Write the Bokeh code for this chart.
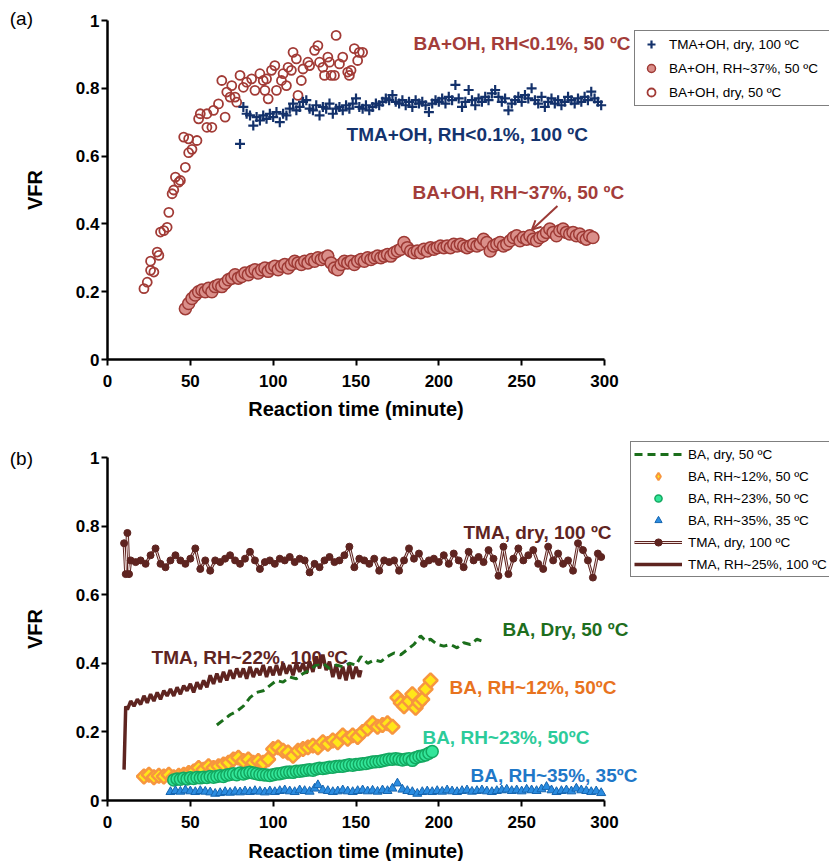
from bokeh.plotting import figure
from bokeh.models import Range1d, FixedTicker, Label, Legend, LegendItem, Arrow, OpenHead
from bokeh.layouts import column
from bokeh.embed import file_html
from bokeh.resources import INLINE

FONT = "Liberation Sans"

# ---------------- Panel (a) data ----------------
ba_dry_x = [22, 24, 26, 28, 26, 30, 31, 32, 34, 36, 37, 39, 40, 41, 43, 44, 47, 49, 51, 46, 49, 54, 55, 56,
            60, 60, 63, 64, 67, 71, 69, 72, 74, 75, 77, 78, 80, 82, 84, 87, 89, 92, 94, 96, 95, 97, 99, 101,
            102, 105, 106, 109, 108, 111, 112, 114, 115, 117, 118, 121, 122, 125, 127, 128, 130, 131, 133,
            134, 135, 137, 138, 140, 142, 145, 146, 147, 149, 151, 152, 154]
ba_dry_y = [0.209, 0.228, 0.263, 0.258, 0.29, 0.317, 0.307, 0.376, 0.38, 0.39, 0.434, 0.489, 0.5, 0.538,
            0.523, 0.528, 0.567, 0.61, 0.62, 0.656, 0.651, 0.646, 0.71, 0.725, 0.685, 0.725, 0.685, 0.735,
            0.754, 0.715, 0.823, 0.789, 0.774, 0.808, 0.774, 0.759, 0.838, 0.803, 0.818, 0.828, 0.794,
            0.843, 0.823, 0.828, 0.794, 0.769, 0.853, 0.867, 0.794, 0.823, 0.843, 0.862, 0.808, 0.853,
            0.906, 0.887, 0.779, 0.823, 0.857, 0.877, 0.867, 0.912, 0.926, 0.877, 0.862, 0.838, 0.892,
            0.877, 0.838, 0.838, 0.956, 0.872, 0.892, 0.848, 0.838, 0.853, 0.917, 0.882, 0.906, 0.906]

tma_x = [80, 82, 84, 86, 88, 90, 92, 94, 96, 98, 100, 102, 104, 106, 108, 110, 112, 114, 116, 118, 120,
         122, 124, 126, 128, 130, 132, 134, 136, 138, 140, 142, 144, 146, 148, 150, 152, 154, 156, 158,
         160, 162, 164, 166, 168, 170, 172, 174, 176, 178, 180, 182, 184, 186, 188, 190, 192, 194, 196,
         198, 200, 202, 204, 206, 208, 210, 212, 214, 216, 218, 220, 222, 224, 226, 228, 230, 232, 234,
         236, 238, 240, 242, 244, 246, 248, 250, 252, 254, 256, 258, 260, 262, 264, 266, 268, 270, 272,
         274, 276, 278, 280, 282, 284, 286, 288, 290, 292, 294, 296, 298]
tma_y = [0.636, 0.745, 0.725, 0.72, 0.69, 0.715, 0.705, 0.72, 0.71, 0.725, 0.715, 0.73, 0.70, 0.725,
         0.72, 0.74, 0.755, 0.735, 0.745, 0.76, 0.765, 0.74, 0.735, 0.75, 0.72, 0.745, 0.74, 0.755,
         0.725, 0.74, 0.745, 0.735, 0.75, 0.74, 0.755, 0.77, 0.745, 0.74, 0.75, 0.735, 0.745, 0.755,
         0.75, 0.76, 0.77, 0.765, 0.78, 0.76, 0.755, 0.765, 0.75, 0.76, 0.745, 0.765, 0.755, 0.76,
         0.75, 0.73, 0.755, 0.765, 0.76, 0.77, 0.755, 0.775, 0.765, 0.81, 0.77, 0.745, 0.76, 0.795,
         0.765, 0.75, 0.77, 0.76, 0.775, 0.765, 0.785, 0.795, 0.775, 0.76, 0.77, 0.735, 0.755, 0.765,
         0.775, 0.76, 0.78, 0.77, 0.80, 0.765, 0.755, 0.775, 0.745, 0.76, 0.77, 0.755, 0.765, 0.75,
         0.76, 0.775, 0.765, 0.755, 0.77, 0.76, 0.775, 0.765, 0.79, 0.77, 0.76, 0.75]

ba37_x = [47, 49, 51, 53, 55, 57, 59, 61, 63, 65, 67, 69, 71, 73, 75, 77, 79, 81, 83, 85, 87, 89, 91, 93,
          95, 97, 99, 101, 103, 105, 107, 109, 111, 113, 115, 117, 119, 121, 123, 125, 127, 129, 131, 133,
          135, 137, 139, 141, 143, 145, 147, 149, 151, 153, 155, 157, 159, 161, 163, 165, 167, 169, 171,
          173, 175, 177, 179, 181, 183, 185, 187, 189, 191, 193, 195, 197, 199, 201, 203, 205, 207, 209,
          211, 213, 215, 217, 219, 221, 223, 225, 227, 229, 231, 233, 235, 237, 239, 241, 243, 245, 247,
          249, 251, 253, 255, 257, 259, 261, 263, 265, 267, 269, 271, 273, 275, 277, 279, 281, 283, 285,
          287, 289, 291, 293]
ba37_y = [0.15, 0.165, 0.18, 0.19, 0.2, 0.205, 0.2, 0.21, 0.2, 0.215, 0.22, 0.215, 0.225, 0.235, 0.24,
          0.25, 0.24, 0.245, 0.255, 0.25, 0.26, 0.265, 0.255, 0.265, 0.27, 0.26, 0.27, 0.275, 0.265, 0.275,
          0.28, 0.27, 0.28, 0.29, 0.285, 0.28, 0.29, 0.285, 0.295, 0.29, 0.3, 0.295, 0.3, 0.305, 0.285,
          0.27, 0.265, 0.28, 0.29, 0.285, 0.29, 0.28, 0.29, 0.295, 0.29, 0.3, 0.295, 0.3, 0.305, 0.3,
          0.305, 0.31, 0.305, 0.315, 0.32, 0.325, 0.345, 0.33, 0.32, 0.315, 0.32, 0.315, 0.325, 0.32,
          0.33, 0.325, 0.33, 0.335, 0.33, 0.335, 0.33, 0.34, 0.335, 0.34, 0.335, 0.33, 0.335, 0.34, 0.335,
          0.34, 0.355, 0.345, 0.32, 0.335, 0.34, 0.345, 0.335, 0.34, 0.35, 0.36, 0.365, 0.35, 0.36, 0.355,
          0.365, 0.355, 0.35, 0.36, 0.365, 0.375, 0.385, 0.375, 0.365, 0.38, 0.385, 0.375, 0.37, 0.375,
          0.365, 0.37, 0.36, 0.355, 0.365, 0.36]

# ---------------- Panel (b) data ----------------
tmadry_x = [10, 11, 12, 13, 14, 17, 20, 23, 26, 29, 32, 35, 38, 41, 44, 47, 50, 53, 56, 59, 62, 65, 68, 71,
            74, 77, 80, 83, 86, 89, 92, 95, 98, 101, 104, 107, 110, 113, 116, 119, 122, 125, 128, 131,
            134, 137, 140, 143, 146, 149, 152, 155, 158, 161, 164, 167, 170, 173, 176, 179, 182, 185,
            188, 191, 194, 197, 200, 203, 206, 209, 212, 215, 218, 221, 224, 227, 230, 233, 236, 239,
            242, 245, 248, 251, 254, 257, 260, 263, 266, 269, 272, 275, 278, 281, 284, 287, 290, 293,
            296, 298]
tmadry_y = [0.75, 0.66, 0.78, 0.66, 0.70, 0.695, 0.70, 0.69, 0.715, 0.735, 0.69, 0.68, 0.70, 0.715, 0.70,
            0.69, 0.705, 0.735, 0.675, 0.70, 0.67, 0.70, 0.695, 0.705, 0.715, 0.70, 0.69, 0.705, 0.725,
            0.70, 0.675, 0.695, 0.70, 0.69, 0.705, 0.70, 0.71, 0.695, 0.705, 0.70, 0.665, 0.69, 0.68,
            0.70, 0.71, 0.695, 0.70, 0.715, 0.74, 0.68, 0.705, 0.70, 0.69, 0.705, 0.67, 0.70, 0.695, 0.70,
            0.67, 0.70, 0.735, 0.705, 0.72, 0.69, 0.70, 0.705, 0.695, 0.715, 0.69, 0.72, 0.70, 0.68,
            0.725, 0.70, 0.71, 0.695, 0.73, 0.705, 0.655, 0.74, 0.66, 0.705, 0.735, 0.70, 0.715, 0.73,
            0.69, 0.675, 0.74, 0.70, 0.72, 0.69, 0.70, 0.67, 0.75, 0.73, 0.70, 0.65, 0.72, 0.71]

tmarh_x = [10, 11, 12, 14, 16, 18, 20, 22, 24, 26, 28, 30, 32, 34, 36, 38, 40, 42, 44, 46, 48, 50, 52, 54,
           56, 58, 60, 62, 64, 66, 68, 70, 72, 74, 76, 78, 80, 82, 84, 86, 88, 90, 92, 94, 96, 98, 100,
           102, 104, 106, 108, 110, 112, 114, 116, 118, 120, 122, 124, 126, 128, 130, 132, 134, 136, 138,
           140, 142, 144, 146, 148, 150, 152, 153]
tmarh_y = [0.09, 0.275, 0.265, 0.29, 0.275, 0.295, 0.28, 0.305, 0.285, 0.31, 0.29, 0.315, 0.295, 0.32, 0.305,
           0.325, 0.305, 0.33, 0.31, 0.335, 0.32, 0.34, 0.315, 0.345, 0.325, 0.35, 0.33, 0.365, 0.34, 0.37,
           0.345, 0.375, 0.35, 0.38, 0.355, 0.385, 0.36, 0.385, 0.355, 0.39, 0.36, 0.385, 0.365, 0.395, 0.36,
           0.39, 0.365, 0.395, 0.365, 0.40, 0.37, 0.395, 0.365, 0.40, 0.375, 0.40, 0.37, 0.405, 0.375, 0.42,
           0.385, 0.425, 0.38, 0.405, 0.36, 0.395, 0.355, 0.39, 0.35, 0.395, 0.355, 0.39, 0.36, 0.38]

badry_x = [66, 70, 74, 78, 82, 86, 90, 94, 98, 102, 106, 110, 114, 118, 122, 126, 130, 134, 138, 142, 146,
           150, 153, 157, 161, 165, 169, 173, 177, 181, 185, 189, 192, 195, 199, 203, 207, 211, 215, 219,
           223, 226]
badry_y = [0.22, 0.235, 0.25, 0.26, 0.275, 0.30, 0.315, 0.32, 0.335, 0.35, 0.345, 0.36, 0.355, 0.37, 0.38,
           0.395, 0.40, 0.385, 0.395, 0.39, 0.40, 0.395, 0.42, 0.40, 0.41, 0.405, 0.42, 0.43, 0.425, 0.44,
           0.455, 0.48, 0.465, 0.47, 0.455, 0.45, 0.455, 0.445, 0.46, 0.455, 0.47, 0.465]

ba12_x = [22, 25, 28, 31, 34, 37, 40, 43, 46, 49, 52, 55, 58, 61, 64, 67, 70, 73, 76, 79, 82, 85, 88, 91,
          94, 97, 100, 103, 106, 109, 112, 115, 118, 121, 124, 127, 130, 133, 136, 139, 142, 145, 148, 151,
          154, 157, 160, 163, 166, 169, 172, 175, 177, 179, 182, 184, 186, 188, 190, 192, 195]
ba12_y = [0.07, 0.075, 0.068, 0.072, 0.07, 0.075, 0.068, 0.072, 0.075, 0.08, 0.085, 0.095, 0.09, 0.10,
          0.095, 0.10, 0.105, 0.11, 0.12, 0.125, 0.115, 0.12, 0.11, 0.115, 0.11, 0.12, 0.15, 0.155, 0.145,
          0.14, 0.13, 0.145, 0.15, 0.155, 0.16, 0.155, 0.17, 0.165, 0.175, 0.17, 0.19, 0.18, 0.19, 0.185,
          0.20, 0.21, 0.225, 0.215, 0.22, 0.225, 0.215, 0.30, 0.285, 0.275, 0.29, 0.31, 0.27, 0.285,
          0.295, 0.325, 0.35]

ba23_x = [40, 42, 44, 46, 48, 50, 52, 54, 56, 58, 60, 62, 64, 66, 68, 70, 72, 74, 76, 78, 80, 82, 84, 86,
          88, 90, 92, 94, 96, 98, 100, 102, 104, 106, 108, 110, 112, 114, 116, 118, 120, 122, 124, 126,
          128, 130, 132, 134, 136, 138, 140, 142, 144, 146, 148, 150, 152, 154, 156, 158, 160, 162, 164,
          166, 168, 170, 172, 174, 176, 178, 180, 182, 184, 186, 188, 190, 192, 194, 196]
ba23_y = [0.06, 0.063, 0.062, 0.065, 0.063, 0.066, 0.064, 0.067, 0.066, 0.068, 0.067, 0.07, 0.068, 0.07,
          0.072, 0.07, 0.074, 0.076, 0.078, 0.075, 0.08, 0.077, 0.08, 0.082, 0.08, 0.078, 0.076, 0.075,
          0.074, 0.073, 0.075, 0.077, 0.078, 0.08, 0.082, 0.083, 0.082, 0.085, 0.085, 0.087, 0.088, 0.09,
          0.088, 0.092, 0.094, 0.093, 0.095, 0.097, 0.097, 0.099, 0.1, 0.1, 0.102, 0.104, 0.103, 0.105,
          0.106, 0.107, 0.108, 0.11, 0.112, 0.113, 0.114, 0.116, 0.118, 0.12, 0.12, 0.122, 0.12, 0.118,
          0.12, 0.122, 0.117, 0.125, 0.128, 0.13, 0.133, 0.138, 0.143]

ba35_x = [38, 41, 44, 47, 50, 53, 56, 59, 62, 65, 68, 71, 74, 77, 80, 83, 86, 89, 92, 95, 98, 101, 104,
          107, 110, 113, 116, 119, 122, 125, 127, 130, 133, 136, 139, 142, 145, 148, 151, 154, 157, 160,
          163, 166, 169, 172, 175, 178, 181, 184, 187, 190, 193, 196, 199, 202, 205, 208, 211, 214, 217,
          220, 223, 226, 229, 232, 235, 238, 241, 244, 247, 250, 253, 256, 259, 262, 265, 268, 271, 274,
          277, 280, 283, 286, 289, 292, 295, 298]
ba35_y = [0.025, 0.028, 0.026, 0.03, 0.027, 0.025, 0.028, 0.026, 0.024, 0.02, 0.022, 0.025, 0.023, 0.026,
          0.024, 0.027, 0.025, 0.028, 0.026, 0.024, 0.027, 0.025, 0.028, 0.03, 0.027, 0.025, 0.03, 0.028,
          0.026, 0.035, 0.045, 0.03, 0.028, 0.025, 0.027, 0.03, 0.027, 0.025, 0.028, 0.03, 0.027, 0.029,
          0.026, 0.03, 0.028, 0.035, 0.05, 0.032, 0.028, 0.025, 0.02, 0.025, 0.027, 0.025, 0.028, 0.026,
          0.03, 0.027, 0.025, 0.028, 0.03, 0.026, 0.028, 0.03, 0.027, 0.025, 0.028, 0.03, 0.032, 0.028,
          0.03, 0.027, 0.032, 0.03, 0.028, 0.033, 0.04, 0.03, 0.025, 0.028, 0.03, 0.027, 0.035, 0.03,
          0.028, 0.025, 0.027, 0.022]

x_ticks = [0, 50, 100, 150, 200, 250, 300]
y_ticks = [0, 0.2, 0.4, 0.6, 0.8, 1]

for a, b in [(ba_dry_x, ba_dry_y), (tma_x, tma_y), (ba37_x, ba37_y), (tmadry_x, tmadry_y),
             (tmarh_x, tmarh_y), (badry_x, badry_y), (ba12_x, ba12_y), (ba23_x, ba23_y), (ba35_x, ba35_y)]:
    assert len(a) == len(b), (len(a), len(b))

W = 829
PX_PER_MIN = 497 / 300.0
X0_PX = 107


def make_fig(height, y_lo, y_hi, lab_standoff, title_standoff):
    x_lo = (0 - X0_PX) / PX_PER_MIN
    x_hi = (W - X0_PX) / PX_PER_MIN
    p = figure(width=W, height=height, x_range=Range1d(x_lo, x_hi), y_range=Range1d(y_lo, y_hi),
               output_backend="svg", toolbar_location=None,
               min_border_left=0, min_border_right=0, min_border_top=0, min_border_bottom=0)
    p.outline_line_color = None
    p.grid.visible = False
    p.background_fill_color = "white"
    p.border_fill_color = "white"
    p.xaxis.ticker = FixedTicker(ticks=x_ticks)
    p.yaxis.ticker = FixedTicker(ticks=y_ticks)
    p.yaxis.major_label_overrides = {0: "0", 1: "1"}
    p.xaxis.fixed_location = 0
    p.yaxis.fixed_location = 0
    p.xaxis.bounds = (0, 300)
    p.yaxis.bounds = (0, 1)
    for ax in (p.xaxis[0], p.yaxis[0]):
        ax.axis_line_width = 2.5
        ax.axis_line_color = "black"
        ax.major_tick_line_width = 2
        ax.major_tick_line_color = "black"
        ax.major_tick_out = 6
        ax.major_tick_in = 0
        ax.minor_tick_out = 0
        ax.minor_tick_in = 0
        ax.major_label_text_font = FONT
        ax.major_label_text_font_style = "bold"
        ax.major_label_text_font_size = "17px"
        ax.major_label_text_color = "black"
        ax.axis_label_text_font = FONT
        ax.axis_label_text_font_style = "bold"
        ax.axis_label_text_font_size = "20px"
        ax.axis_label_text_color = "black"
    p.xaxis.axis_label = "Reaction time (minute)"
    p.yaxis.axis_label = "VFR"
    p.xaxis.major_label_standoff = lab_standoff
    p.xaxis.axis_label_standoff = title_standoff
    p.yaxis.major_label_standoff = 2
    p.yaxis.axis_label_standoff = 27
    return p


def add_text(p, x, y, text, color, size="19px", bold=True):
    p.add_layout(Label(x=x, y=y, text=text, text_color=color, text_font=FONT,
                       text_font_size=size, text_font_style="bold" if bold else "normal",
                       text_align="left", text_baseline="middle"))


# ================= Panel (a) =================  (page y 0..426, value 1 at 20, 0 at 359)
HA = 426
pa = make_fig(HA, (359 - HA) / 339.0, 359 / 339.0, 9, 8)

r37 = pa.scatter(ba37_x, ba37_y, marker="circle", size=12, fill_color="#DA8F8A",
                 line_color="#9E3A35", line_width=1.5)
rdry = pa.scatter(ba_dry_x, ba_dry_y, marker="circle", size=9, fill_color=None,
                  line_color="#A23B36", line_width=1.8)
rtma = pa.scatter(tma_x, tma_y, marker="cross", size=10, line_color="#13316B", line_width=2.2)

add_text(pa, 184.7, 0.932, "BA+OH, RH<0.1%, 50 ºC", "#A33D3A")
add_text(pa, 144.3, 0.664, "TMA+OH, RH<0.1%, 100 ºC", "#14336E")
add_text(pa, 184.1, 0.493, "BA+OH, RH~37%, 50 ºC", "#A33D3A")
add_text(pa, -59, 1.006, "(a)", "black", size="19px", bold=False)

pa.add_layout(Arrow(end=OpenHead(size=9, line_color="#9B3A36", line_width=2),
                    x_start=271.6, y_start=0.453, x_end=256.2, y_end=0.383,
                    line_color="#9B3A36", line_width=2))

leg_a = Legend(items=[LegendItem(label="TMA+OH, dry, 100 ºC", renderers=[rtma]),
                      LegendItem(label="BA+OH, RH~37%, 50 ºC", renderers=[r37]),
                      LegendItem(label="BA+OH, dry, 50 ºC", renderers=[rdry])],
               location=(634, HA - 106), margin=0, padding=3, spacing=4,
               glyph_width=26, glyph_height=20, label_height=20, label_width=157, label_standoff=5,
               label_text_font=FONT, label_text_font_size="13.5px", label_text_color="black",
               border_line_color="black", border_line_width=1,
               background_fill_color="white", background_fill_alpha=1)
pa.add_layout(leg_a)

# ================= Panel (b) =================  (page y 426..861, value 1 at 457, 0 at 800)
HB = 435
TOPB = HA
BOTB = HA + HB
pb = make_fig(HB, (800 - BOTB) / 343.0, (800 - TOPB) / 343.0, 9, 9)

r12 = pb.scatter(ba12_x, ba12_y, marker="square", angle=0.785398, size=10, fill_color="#FFE619",
                 line_color="#F7963F", line_width=2.5)
# same series drawn as diamond only for the legend swatch (hidden in the plot area)
r12_leg = pb.scatter(ba12_x, ba12_y, marker="diamond", size=13, fill_color="#FFE619",
                     line_color="#F7963F", line_width=2, visible=False)
r23 = pb.scatter(ba23_x, ba23_y, marker="circle", size=12, fill_color="#33E69A",
                 line_color="#13A860", line_width=1.5)
r35 = pb.scatter(ba35_x, ba35_y, marker="triangle", size=9, fill_color="#2B8CE0",
                 line_color="#1565B0", line_width=1)
rrh = pb.line(tmarh_x, tmarh_y, line_color="#5E2420", line_width=3.5)
rbd = pb.line(badry_x, badry_y, line_color="#1B6E1B", line_width=3, line_dash="8 5")
rtd1 = pb.line(tmadry_x, tmadry_y, line_color="#5E2420", line_width=3)
rtd2 = pb.line(tmadry_x, tmadry_y, line_color="#F3E4E2", line_width=1)
rtd3 = pb.scatter(tmadry_x, tmadry_y, marker="circle", size=7, fill_color="#5E2420",
                  line_color="#5E2420", line_width=1)

add_text(pb, 214.9, 0.781, "TMA, dry, 100 ºC", "#5F2422")
add_text(pb, 238.4, 0.499, "BA, Dry, 50 ºC", "#1E6E1E")
add_text(pb, 26.6, 0.417, "TMA, RH~22%, 100 ºC", "#5F2422")
add_text(pb, 206.4, 0.329, "BA, RH~12%, 50ºC", "#E8731E")
add_text(pb, 190.1, 0.184, "BA, RH~23%, 50ºC", "#2CCB9A")
add_text(pb, 219.1, 0.073, "BA, RH~35%, 35ºC", "#1F78C8")
add_text(pb, -59, 0.997, "(b)", "black", size="19px", bold=False)

leg_b = Legend(items=[LegendItem(label="BA, dry, 50 ºC", renderers=[rbd]),
                      LegendItem(label="BA, RH~12%, 50 ºC", renderers=[r12_leg]),
                      LegendItem(label="BA, RH~23%, 50 ºC", renderers=[r23]),
                      LegendItem(label="BA, RH~35%, 35 ºC", renderers=[r35]),
                      LegendItem(label="TMA, dry, 100 ºC", renderers=[rtd1, rtd2, rtd3]),
                      LegendItem(label="TMA, RH~25%, 100 ºC", renderers=[rrh])],
               location=(630, BOTB - 577), margin=0, padding=3, spacing=4,
               glyph_width=48, glyph_height=18, label_height=18, label_width=138, label_standoff=6,
               label_text_font=FONT, label_text_font_size="13.5px", label_text_color="black",
               border_line_color="black", border_line_width=1,
               background_fill_color="white", background_fill_alpha=1,
               inactive_fill_alpha=0)
pb.add_layout(leg_b)

layout = column(pa, pb)
open("out.html", "w").write(file_html(layout, INLINE))
